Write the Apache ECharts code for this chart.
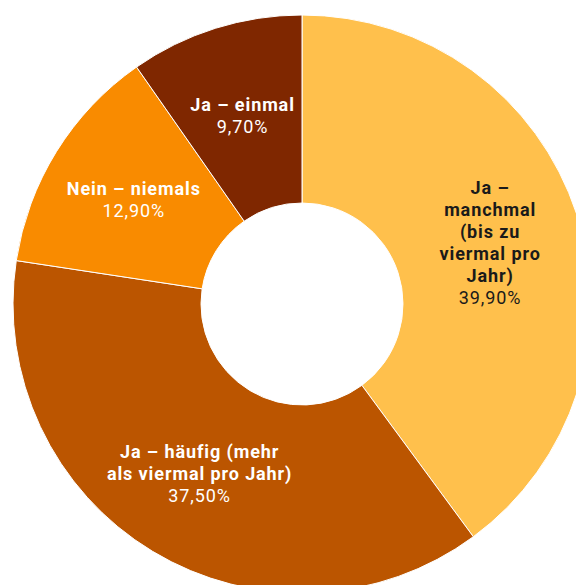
<!DOCTYPE html>
<html><head><meta charset="utf-8">
<script src="https://cdn.jsdelivr.net/npm/echarts@6/dist/echarts.min.js"></script>
<style>html,body{margin:0;padding:0;background:#fff}#c{width:576px;height:585px}#c text{letter-spacing:0.9px}</style>
</head><body><div id="c"></div>
<script>
const categories = ["Ja – manchmal (bis zu viermal pro Jahr)", "Ja – häufig (mehr als viermal pro Jahr)", "Nein – niemals", "Ja – einmal"];
const labelLines = [["Ja –", "manchmal", "(bis zu", "viermal pro", "Jahr)"], ["Ja – häufig (mehr", "als viermal pro Jahr)"], ["Nein – niemals"], ["Ja – einmal"]];
const values = [39.9, 37.5, 12.9, 9.7];
const colors = ["#FFC04C", "#BB5500", "#F98B00", "#7F2700"];
const textColors = ["#1a1a1a", "#ffffff", "#ffffff", "#ffffff"];

const chart = echarts.init(document.getElementById('c'), null, {renderer: 'svg'});
chart.setOption({
  animation: false,
  series: [{
    type: 'pie',
    center: [302, 304],
    radius: [101, 289],
    startAngle: 90,
    clockwise: true,
    itemStyle: {borderColor: '#ffffff', borderWidth: 1},
    label: {show: true, position: 'inside'},
    labelLine: {show: false},
    data: categories.map((c, i) => ({
      name: c,
      value: values[i],
      itemStyle: {color: colors[i]},
      label: {
        formatter: () => labelLines[i].map(l => '{b|' + l + '}').join('\n') + '\n{p|' + values[i].toFixed(2).replace('.', ',') + '%}',
        rich: {
          b: {fontFamily: 'Roboto', fontWeight: 'bold', fontSize: 18, lineHeight: 22, color: textColors[i], align: 'center'},
          p: {fontFamily: 'Roboto', fontWeight: 'normal', fontSize: 18, lineHeight: 22, color: textColors[i], align: 'center'}
        }
      }
    }))
  }]
});
</script></body></html>
